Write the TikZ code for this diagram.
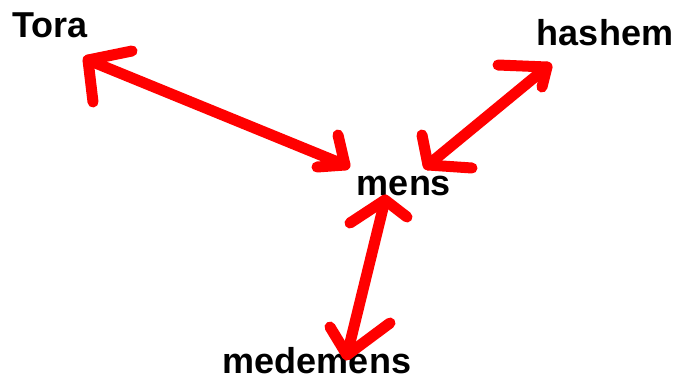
\documentclass[tikz,border=0pt]{standalone}
\usepackage{fontspec}
\setmainfont{Liberation Sans}
\usetikzlibrary{calc}
\tikzset{
  word/.style={anchor=base, inner sep=0pt, font=\fontsize{36}{40}\selectfont\bfseries},
  redline/.style={draw=red, line width=11pt, line cap=round, line join=round}
}
\begin{document}
\begin{tikzpicture}[x=1pt,y=-1pt]
\useasboundingbox (0,0) rectangle (677,381);
% words
\node [word] (tora) at (50,37) {Tora};
\node [word] (hashem) at (605,45) {hashem};
\node [word] (mens) at (404,195) {mens};
\node [word] (medemens) at (317,373) {medemens};
% arrow ends
\coordinate (toratip) at (88,60);
\coordinate (menstipa) at (345,165);
\coordinate (hashemtip) at (547,67);
\coordinate (menstipb) at (428,165);
\coordinate (menstipc) at (385,200);
\coordinate (medemenstip) at (347,355);
% Tora <-> mens
\draw [redline] (toratip) -- (menstipa);
\draw [redline] ($(toratip)+(44,-9)$) -- (toratip) -- ++(5,42);
\draw [redline] ($(menstipa)+(-7,-30)$) -- (menstipa) -- ++(-28,2);
% hashem <-> mens
\draw [redline] (hashemtip) -- (menstipb);
\draw [redline] ($(hashemtip)+(-49,-2)$) -- (hashemtip) -- ++(-5,20);
\draw [redline] ($(menstipb)+(-6,-30)$) -- (menstipb) -- ++(44,3);
% mens <-> medemens
\draw [redline] (menstipc) -- (medemenstip);
\draw [redline] ($(menstipc)+(-35,23)$) -- (menstipc) -- ++(22,17);
\draw [redline] ($(medemenstip)+(-17,-28)$) -- (medemenstip) -- ++(43,-32);
\end{tikzpicture}
\end{document}
